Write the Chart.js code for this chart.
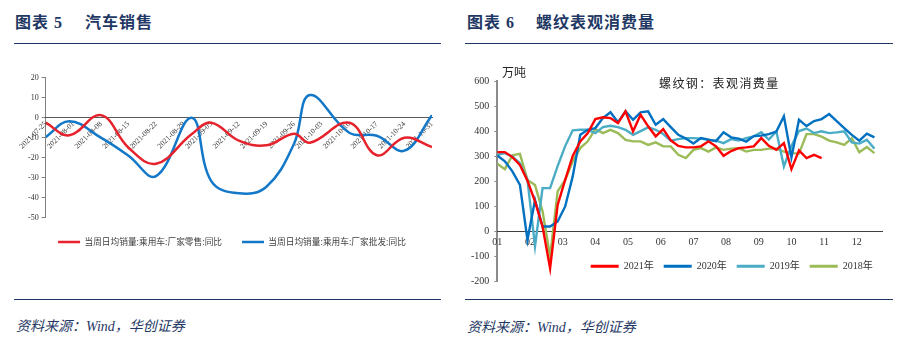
<!DOCTYPE html>
<html><head><meta charset="utf-8">
<script src="https://cdn.jsdelivr.net/npm/chart.js@4.4.0/dist/chart.umd.min.js"></script>
<style>
html,body{margin:0;padding:0;background:#fff;}
#page{position:relative;width:904px;height:351px;overflow:hidden;background:#fff;}
.t{position:absolute;color:#1F3864;font-weight:bold;font-size:16px;line-height:16px;white-space:nowrap;font-family:"Liberation Serif","Noto Sans CJK SC",serif;letter-spacing:1px;z-index:2;}
.rule{position:absolute;height:1.3px;background:#1F3864;}
.src{position:absolute;color:#1F3864;font-style:italic;font-size:14px;line-height:14px;white-space:nowrap;font-family:"Liberation Serif","Noto Sans CJK SC",serif;}
.note{position:absolute;color:#222;font-size:12px;line-height:12px;white-space:nowrap;font-family:"Noto Sans CJK SC",sans-serif;z-index:2;}
canvas{position:absolute;}
</style></head><body>
<div id="page">
  <div class="t" style="left:15px;top:15px">图表 5</div>
  <div class="t" style="left:85px;top:15px">汽车销售</div>
  <div class="rule" style="left:14px;top:42.5px;width:427px"></div>
  <div class="t" style="left:467px;top:15px">图表 6</div>
  <div class="t" style="left:536px;top:15px">螺纹表观消费量</div>
  <div class="rule" style="left:465px;top:42.5px;width:428px"></div>

  <canvas id="carChart" width="450" height="210" style="left:0;top:50px"></canvas>
  <canvas id="steelChart" width="449" height="265" style="left:455px;top:50px"></canvas>

  <div class="note" style="left:502px;top:66px">万吨</div>
  <div class="note" style="left:659px;top:77px;letter-spacing:1.4px">螺纹钢：表观消费量</div>

  <div class="rule" style="left:14px;top:299px;width:427px"></div>
  <div class="rule" style="left:465px;top:299px;width:428px"></div>
  <div class="src" style="left:16px;top:320px">资料来源：Wind，华创证券</div>
  <div class="src" style="left:467px;top:321px">资料来源：Wind，华创证券</div>
</div>
<script>
// ---------- 图表5 汽车销售 ----------
const carTickLabels = ['2021-07-25','2021-08-01','2021-08-08','2021-08-15','2021-08-22','2021-08-29','2021-09-05','2021-09-12','2021-09-19','2021-09-26','2021-10-03','2021-10-10','2021-10-17','2021-10-24','2021-10-31'];
const carDates = ['2021-07-25','2021-07-31','2021-08-08','2021-08-15','2021-08-22','2021-08-31','2021-09-05','2021-09-12','2021-09-19','2021-09-26','2021-09-30','2021-10-10','2021-10-17','2021-10-24','2021-10-31'];
const retailYoY    = [-2.5, -8.8, 1.3, -15, -23, -8.3, -2.5, -11.5, -13.8, -8, -12.5, -2.5, -18.8, -10, -14.7];
const wholesaleYoY = [-9.7, -1.8, -10, -19, -29.2, 0, -31.7, -37.8, -34.5, -13, 11.3, -7.5, -9, -16.5, 1.2];
const carSeriesNames = ['当周日均销量:乘用车:厂家零售:同比','当周日均销量:乘用车:厂家批发:同比'];

// ---------- 图表6 螺纹表观消费量 ----------
const monthLabels = ['01','02','03','04','05','06','07','08','09','10','11','12'];
const steelYears = ['2021年','2020年','2019年','2018年'];
const rebar2021 = [316,316,296,265,202,119,19,-148,105,205,301,359,392,448,455,452,432,479,399,465,419,379,408,363,341,335,335,339,359,339,301,320,332,335,339,372,341,325,352,248,323,292,305,292];
const rebar2020 = [303,279,239,185,-35,125,19,19,39,99,219,385,405,412,452,475,435,479,445,475,479,425,448,416,385,370,350,372,366,360,395,375,370,358,380,382,388,398,459,295,445,420,440,448,468,440,412,385,362,390,375];
const rebar2019 = [305,312,298,272,205,-60,172,172,260,340,403,405,405,392,416,421,416,405,385,400,415,405,388,362,368,372,372,370,365,362,352,368,362,372,379,395,366,399,259,340,400,410,392,399,392,395,399,355,350,365,330];
const rebar2018 = [270,248,303,309,205,185,80,-101,159,205,279,332,359,408,392,405,392,365,359,359,345,355,339,339,305,292,325,332,318,335,325,330,332,318,325,325,330,330,318,312,310,388,388,378,362,355,345,372,315,336,312];

const dayIndex = d => (Date.parse(d) - Date.parse(carTickLabels[0])) / 86400000;
const toXY = (xs, ys) => ys.map((v, i) => ({x: xs[i], y: v}));
const weekXY = ys => ys.map((v, i) => ({x: i, y: v}));

const flatLegend = chart => Chart.defaults.plugins.legend.labels.generateLabels(chart)
  .map(l => Object.assign(l, {lineWidth: 0, fillStyle: l.strokeStyle}));

// moves the legend box after layout: dx in px, or up into the plot area by its own height
const legendShift = {
  id: 'legendShift',
  afterLayout(chart, args, opts) {
    const lg = chart.legend;
    const dx = opts.dx || 0;
    const dy = opts.intoArea ? -lg.height : 0;
    lg.left += dx; lg.right += dx;
    lg.top += dy; lg.bottom += dy;
  }
};

new Chart(document.getElementById('carChart'), {
  type: 'line',
  data: {
    datasets: [
      {label: carSeriesNames[0], data: toXY(carDates.map(dayIndex), retailYoY), borderColor: '#E6232D', backgroundColor: '#E6232D', borderWidth: 2.5, pointRadius: 0, tension: 0.4, fill: false},
      {label: carSeriesNames[1], data: toXY(carDates.map(dayIndex), wholesaleYoY), borderColor: '#1478C8', backgroundColor: '#1478C8', borderWidth: 2.5, pointRadius: 0, tension: 0.4, fill: false}
    ]
  },
  options: {
    responsive: false, animation: false, devicePixelRatio: 1,
    layout: {padding: {left: 4, right: 18, top: 27.7, bottom: 3.6}},
    plugins: {
      tooltip: {enabled: false},
      legendShift: {dx: 14},
      legend: {position: 'bottom', labels: {boxWidth: 22, boxHeight: 2.5, padding: 20, color: '#404040', font: {family: 'Noto Sans CJK SC', size: 8.7}, generateLabels: flatLegend}}
    },
    scales: {
      y: {min: -50, max: 20,
          ticks: {stepSize: 10, padding: 3, color: '#333', font: {family: 'Liberation Serif', size: 8}},
          grid: {drawOnChartArea: false, drawTicks: true, tickLength: 4, color: '#808080'},
          border: {color: '#808080', width: 1},
          afterFit: s => { s.width = 41.7; }},
      x: {type: 'linear', position: {y: 0}, min: 0, max: 98,
          grid: {display: false, drawTicks: false},
          border: {display: true, color: '#595959', width: 1},
          ticks: {stepSize: 7, autoSkip: false, minRotation: 45, maxRotation: 45, padding: 2, color: '#333', font: {family: 'Liberation Serif', size: 7.5},
                  callback: v => carTickLabels[Math.round(v / 7)]}}
    }
  },
  plugins: [legendShift]
});

const steelColors = ['#FF0000', '#0070C0', '#4BACC6', '#9BBB59'];
const steelSeries = [rebar2021, rebar2020, rebar2019, rebar2018];

new Chart(document.getElementById('steelChart'), {
  type: 'line',
  data: {
    datasets: steelSeries.map((s, i) => ({label: steelYears[i], data: weekXY(s), borderColor: steelColors[i], backgroundColor: steelColors[i], borderWidth: 2.4, pointRadius: 0, tension: 0, fill: false}))
  },
  options: {
    responsive: false, animation: false, devicePixelRatio: 1,
    layout: {padding: {left: 0, right: 21.3, top: 31, bottom: 3.7}},
    plugins: {
      tooltip: {enabled: false},
      legendShift: {intoArea: true},
      legend: {position: 'bottom', fullSize: false, align: 'end', labels: {boxWidth: 28, boxHeight: 3, padding: 10, color: '#333', font: {family: "'Liberation Serif', 'Noto Sans CJK SC'", size: 10}, generateLabels: flatLegend}}
    },
    scales: {
      y: {min: -200, max: 600,
          ticks: {stepSize: 100, padding: 5, color: '#333', font: {family: 'Liberation Serif', size: 10}},
          grid: {drawOnChartArea: false, drawTicks: true, tickLength: 3, color: '#8c8c8c'},
          border: {color: '#8c8c8c', width: 2},
          afterFit: s => { s.width = 42.3; }},
      x: {type: 'linear', position: {y: 0}, min: 0, max: 51.1,
          grid: {display: false, drawTicks: false},
          border: {display: true, color: '#404040', width: 1},
          afterBuildTicks: s => { s.ticks = monthLabels.map((m, i) => ({value: i * 52 / 12})); },
          ticks: {autoSkip: false, maxRotation: 0, minRotation: 0, padding: 5, color: '#333', font: {family: 'Liberation Serif', size: 10},
                  callback: (v, i) => monthLabels[i]}}
    }
  },
  plugins: [legendShift]
});
</script>
</body></html>
